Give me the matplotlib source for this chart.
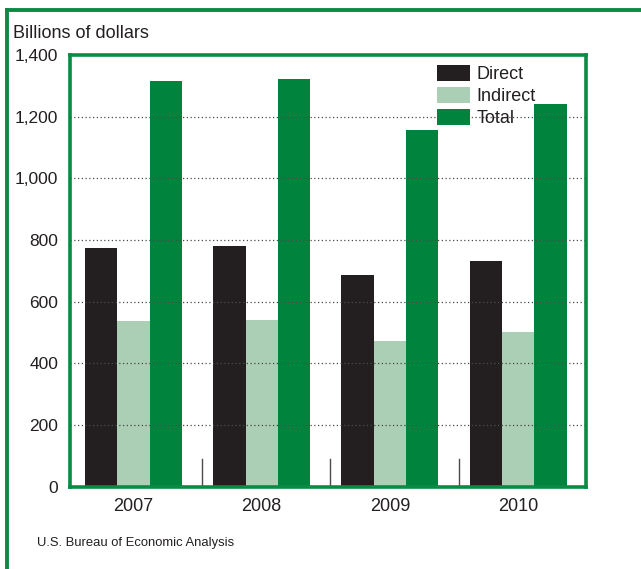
import matplotlib
matplotlib.use("Agg")
import matplotlib.pyplot as plt
from matplotlib.lines import Line2D
import numpy as np

years = ["2007", "2008", "2009", "2010"]
direct = [775, 782, 686, 731]
indirect = [537, 540, 471, 501]
total = [1317, 1323, 1158, 1240]
series_names = ["Direct", "Indirect", "Total"]
yticks = [0, 200, 400, 600, 800, 1000, 1200, 1400]
ylabel = "Billions of dollars"
source = "U.S. Bureau of Economic Analysis"

BLACK = "#231F20"
LIGHT = "#ABCFB5"
GREEN = "#00843D"
FRAME = "#0B8A44"

plt.rcParams["font.family"] = ["Liberation Sans", "DejaVu Sans"]

W, H = 641, 569
fig = plt.figure(figsize=(W / 100, H / 100), dpi=100)

ax_left, ax_right = 70 / W, 586 / W
ax_bottom_px, ax_top_px = 486.6, 55.0
ax = fig.add_axes([ax_left, (H - ax_bottom_px) / H, ax_right - ax_left,
                   (ax_bottom_px - ax_top_px) / H])

x = np.arange(len(years))
bw = 0.252
ax.bar(x - bw, direct, bw, color=BLACK, label=series_names[0], zorder=2)
ax.bar(x, indirect, bw, color=LIGHT, label=series_names[1], zorder=2)
ax.bar(x + bw, total, bw, color=GREEN, label=series_names[2], zorder=2)

# dotted gridlines drawn over bars
for v in yticks[1:-1]:
    ax.axhline(v, color="#4a4a4a", lw=0.9, ls=(0, (1, 2)), zorder=3)

# separator ticks between groups
for i in range(len(years) - 1):
    ax.plot([i + 0.536, i + 0.536], [0, 89], color="#4a4a4a", lw=1.0, zorder=3)

ax.set_xlim(-0.495, 3.53)
ax.set_ylim(0, 1400)
ax.set_yticks(yticks)
ax.set_yticklabels([f"{v:,}" for v in yticks])
ax.set_xticks(x)
ax.set_xticklabels(years)
ax.tick_params(axis="y", length=0, pad=8.5, labelsize=12.5, colors="#231F20")
ax.tick_params(axis="x", length=0, pad=8, labelsize=13, colors="#231F20")
for s in ax.spines.values():
    s.set_color(FRAME)
    s.set_linewidth(2.6)
    s.set_zorder(4)

leg = ax.legend(loc="upper left", bbox_to_anchor=((437 - 70) / 516, (486.6 - 65) / 431.6),
                frameon=False, fontsize=13, handlelength=1.85, handleheight=0.95,
                handletextpad=0.35, labelspacing=0.22, borderpad=0, borderaxespad=0)
for t in leg.get_texts():
    t.set_color("#231F20")

fig.text(13 / W, 1 - 34 / H, ylabel, fontsize=13, ha="left", va="center", color="#231F20")

fig.text(37 / W, 1 - 543 / H, source, fontsize=9.4, ha="left", va="center",
         color="#231F20")

# outer green frame (top and left visible)
fig.add_artist(Line2D([6.5 / W, 1.0], [1 - 9.7 / H, 1 - 9.7 / H], color=FRAME, lw=2.8,
                      transform=fig.transFigure))
fig.add_artist(Line2D([6.5 / W, 6.5 / W], [0, 1 - 9.7 / H], color=FRAME, lw=2.8,
                      transform=fig.transFigure))

fig.savefig("out.png", dpi=100)
